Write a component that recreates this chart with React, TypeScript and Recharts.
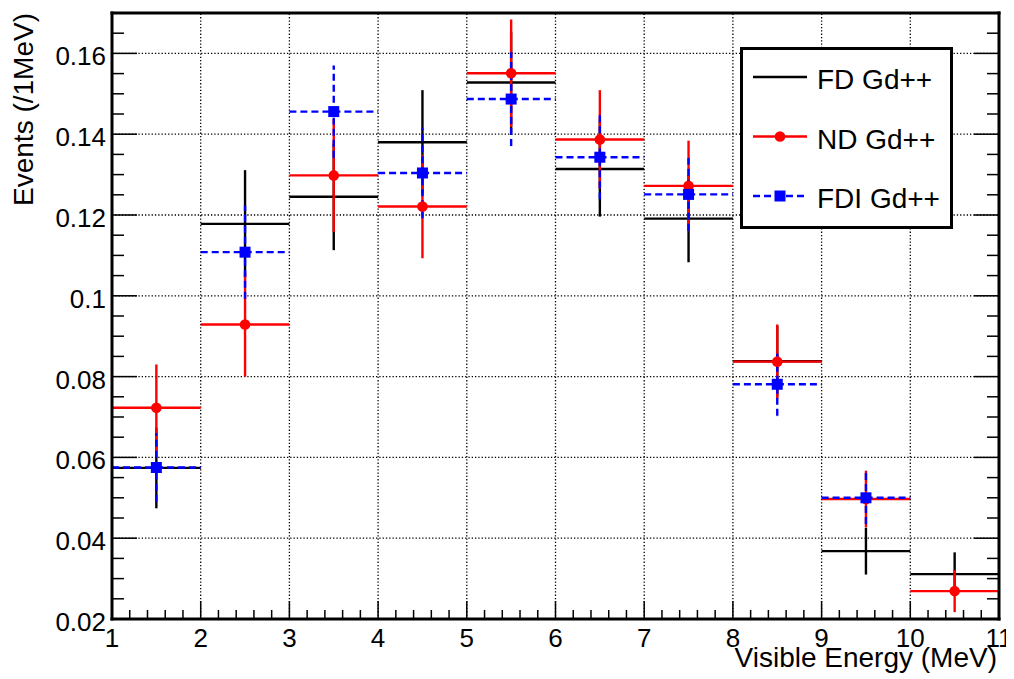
import React from 'react';
import { ComposedChart, Scatter, ErrorBar, XAxis, YAxis, ReferenceLine, Legend } from 'recharts';

// ---- data ----
const BIN_CENTERS = [1.5, 2.5, 3.5, 4.5, 5.5, 6.5, 7.5, 8.5, 9.5, 10.5];
const BIN_HALF_WIDTH = [0.5, 0.5, 0.5, 0.5, 0.5, 0.5, 0.5, 0.5, 0.5, 0.5];

const FD_VALUES = [0.0574, 0.1178, 0.1245, 0.138, 0.1528, 0.1314, 0.1191, 0.0838, 0.0368, 0.0311];
const FD_ERRORS = [0.01, 0.0133, 0.0132, 0.0129, 0.0125, 0.0118, 0.0108, 0.0088, 0.0058, 0.0054];

const ND_VALUES = [0.0723, 0.0929, 0.1298, 0.1221, 0.1551, 0.1387, 0.1272, 0.0837, 0.0497, 0.0269];
const ND_ERRORS = [0.0107, 0.0129, 0.014, 0.0128, 0.0133, 0.0122, 0.0112, 0.0092, 0.007, 0.0052];

const FDI_VALUES: (number | null)[] = [0.0575, 0.1108, 0.1456, 0.1304, 0.1487, 0.1343, 0.1251, 0.0781, 0.05, null];
const FDI_ERRORS: (number | null)[] = [0.0085, 0.0115, 0.0114, 0.0112, 0.0116, 0.0104, 0.009, 0.0078, 0.0065, null];

const SERIES_NAMES = ['FD Gd++', 'ND Gd++', 'FDI Gd++'];

const X_MAJOR_TICKS = [1, 2, 3, 4, 5, 6, 7, 8, 9, 10, 11];
const Y_MAJOR_TICKS = [0.02, 0.04, 0.06, 0.08, 0.1, 0.12, 0.14, 0.16];
const X_GRID = [2, 3, 4, 5, 6, 7, 8, 9, 10];
const Y_GRID = [0.04, 0.06, 0.08, 0.1, 0.12, 0.14, 0.16];
const X_DOMAIN: [number, number] = [1, 11];
const Y_DOMAIN: [number, number] = [0.02, 0.17];
const X_MINOR_STEP = 0.2;
const Y_MINOR_STEP = 0.005;

const X_ALL_TICKS: number[] = [];
for (let i = 0; i <= Math.round((X_DOMAIN[1] - X_DOMAIN[0]) / X_MINOR_STEP); i++) {
  X_ALL_TICKS.push(Math.round((X_DOMAIN[0] + i * X_MINOR_STEP) * 10) / 10);
}
const Y_ALL_TICKS: number[] = [];
for (let i = 0; i <= Math.round((Y_DOMAIN[1] - Y_DOMAIN[0]) / Y_MINOR_STEP); i++) {
  Y_ALL_TICKS.push(Math.round((Y_DOMAIN[0] + i * Y_MINOR_STEP) * 1000) / 1000);
}

const build = (vals: (number | null)[], errs: (number | null)[]) =>
  BIN_CENTERS.map((x, i) => ({ x, y: vals[i], ex: BIN_HALF_WIDTH[i], ey: errs[i] })).filter((d) => d.y != null);

const FD_DATA = build(FD_VALUES, FD_ERRORS);
const ND_DATA = build(ND_VALUES, ND_ERRORS);
const FDI_DATA = build(FDI_VALUES, FDI_ERRORS);

// ---- style ----
const FONT = '"Liberation Sans", Arial, Helvetica, sans-serif';
const BLACK = '#000000';
const RED = '#ff0000';
const BLUE = '#0000ff';
const DASH = '7 4';
const LINE_W = 2.4;
const LABEL_SIZE = 26;
const TITLE_SIZE = 28;

const isMajorX = (v: number) => X_MAJOR_TICKS.some((t) => Math.abs(t - v) < 1e-6);
const isMajorY = (v: number) => Y_MAJOR_TICKS.some((t) => Math.abs(t - v) < 1e-7);

const BottomTick = (props: any) => {
  const { x, y, payload } = props;
  const v = payload.value;
  const major = isMajorX(v);
  return (
    <g>
      <line x1={x} x2={x} y1={y} y2={y - (major ? 18 : 9)} stroke={BLACK} strokeWidth={1.5} />
      {major && (
        <text x={x} y={y + 28} textAnchor="middle" fontSize={LABEL_SIZE} fontFamily={FONT} fill={BLACK}>
          {String(v)}
        </text>
      )}
    </g>
  );
};

const TopTick = (props: any) => {
  const { x, y, payload } = props;
  const major = isMajorX(payload.value);
  return <line x1={x} x2={x} y1={y} y2={y + (major ? 18 : 9)} stroke={BLACK} strokeWidth={1.5} />;
};

const LeftTick = (props: any) => {
  const { x, y, payload } = props;
  const v = payload.value;
  const major = isMajorY(v);
  return (
    <g>
      <line x1={x} x2={x + (major ? 25 : 12)} y1={y} y2={y} stroke={BLACK} strokeWidth={1.5} />
      {major && (
        <text x={x - 6} y={y + 12} textAnchor="end" fontSize={LABEL_SIZE} fontFamily={FONT} fill={BLACK}>
          {String(v)}
        </text>
      )}
    </g>
  );
};

const RightTick = (props: any) => {
  const { x, y, payload } = props;
  const major = isMajorY(payload.value);
  return <line x1={x} x2={x - (major ? 25 : 12)} y1={y} y2={y} stroke={BLACK} strokeWidth={1.5} />;
};

const NoShape = () => <g />;
const CircleShape = (props: any) => <circle cx={props.cx} cy={props.cy} r={5.3} fill={RED} />;
const SquareShape = (props: any) => (
  <rect x={props.cx - 5.5} y={props.cy - 5.5} width={11} height={11} fill={BLUE} />
);

const LEGEND_ROWS = [27, 86.5, 146];
const LEGEND_STYLES = [
  { color: BLACK, dash: undefined as string | undefined, marker: 'none' },
  { color: RED, dash: undefined as string | undefined, marker: 'circle' },
  { color: BLUE, dash: DASH, marker: 'square' },
];

const LegendBox = () => (
  <div
    style={{
      width: 213,
      height: 182,
      boxSizing: 'border-box',
      border: '3px solid #000',
      background: '#fff',
    }}
  >
    <svg width={207} height={176} style={{ display: 'block' }}>
      {SERIES_NAMES.map((name, i) => {
        const cy = LEGEND_ROWS[i];
        const st = LEGEND_STYLES[i];
        return (
          <g key={name}>
            <line x1={10} x2={64} y1={cy} y2={cy} stroke={st.color} strokeWidth={LINE_W} strokeDasharray={st.dash} />
            {st.marker === 'circle' && <circle cx={37} cy={cy} r={5.3} fill={st.color} />}
            {st.marker === 'square' && <rect x={31.5} y={cy - 5.5} width={11} height={11} fill={st.color} />}
            <text x={74} y={cy + 12} fontSize={TITLE_SIZE} fontFamily={FONT} fill={BLACK}>
              {name}
            </text>
          </g>
        );
      })}
    </svg>
  </div>
);

const frameLine = { stroke: BLACK, strokeWidth: 3, strokeLinecap: 'square' as const };

export default function App() {
  return (
    <div style={{ width: 1006, height: 671, fontFamily: FONT }}>
      <ComposedChart width={1006} height={671} margin={{ top: 0, right: 5, bottom: 10, left: 44 }}>
        <XAxis
          xAxisId="b"
          type="number"
          dataKey="x"
          orientation="bottom"
          domain={X_DOMAIN}
          ticks={X_ALL_TICKS}
          interval={0}
          allowDataOverflow
          height={50}
          tickSize={0}
          tickMargin={0}
          tickLine={false}
          axisLine={frameLine}
          tick={<BottomTick />}
          label={{
            content: (p: any) => {
              const vb = p.viewBox || {};
              return (
                <text
                  x={vb.x + vb.width - 2}
                  y={vb.y + 48}
                  textAnchor="end"
                  fontSize={TITLE_SIZE}
                  fontFamily={FONT}
                  fill={BLACK}
                >
                  Visible Energy (MeV)
                </text>
              );
            },
          }}
        />
        <XAxis
          xAxisId="t"
          type="number"
          orientation="top"
          domain={X_DOMAIN}
          ticks={X_ALL_TICKS}
          interval={0}
          allowDataOverflow
          height={5}
          tickSize={0}
          tickMargin={0}
          tickLine={false}
          axisLine={frameLine}
          tick={<TopTick />}
        />
        <YAxis
          yAxisId="l"
          type="number"
          orientation="left"
          domain={Y_DOMAIN}
          ticks={Y_ALL_TICKS}
          interval={0}
          allowDataOverflow
          width={60}
          tickSize={0}
          tickMargin={0}
          tickLine={false}
          axisLine={frameLine}
          tick={<LeftTick />}
          label={{
            content: (p: any) => {
              const vb = p.viewBox || {};
              const x = vb.x - 19;
              const y = vb.y;
              return (
                <text
                  x={x}
                  y={y}
                  transform={`rotate(-90, ${x}, ${y})`}
                  textAnchor="end"
                  fontSize={TITLE_SIZE}
                  fontFamily={FONT}
                  fill={BLACK}
                >
                  Events (/1MeV)
                </text>
              );
            },
          }}
        />
        <YAxis
          yAxisId="r"
          type="number"
          orientation="right"
          domain={Y_DOMAIN}
          ticks={Y_ALL_TICKS}
          interval={0}
          allowDataOverflow
          width={10}
          tickSize={0}
          tickMargin={0}
          tickLine={false}
          axisLine={frameLine}
          tick={<RightTick />}
        />
        {X_GRID.map((v) => (
          <ReferenceLine
            key={`gx${v}`}
            x={v}
            xAxisId="b"
            yAxisId="l"
            stroke={BLACK}
            strokeWidth={1.3}
            strokeDasharray="1.3 2"
          />
        ))}
        {Y_GRID.map((v) => (
          <ReferenceLine
            key={`gy${v}`}
            y={v}
            xAxisId="b"
            yAxisId="l"
            stroke={BLACK}
            strokeWidth={1.3}
            strokeDasharray="1.3 2"
          />
        ))}
        <Legend
          layout="horizontal"
          verticalAlign="middle"
          align="center"
          content={() => <LegendBox />}
          wrapperStyle={{ position: 'absolute', left: 732, top: 39, width: 213, height: 182 }}
        />
        <Scatter
          name={SERIES_NAMES[0]}
          data={FD_DATA}
          dataKey="y"
          xAxisId="b"
          yAxisId="l"
          shape={<NoShape />}
          fill={BLACK}
          isAnimationActive={false}
        >
          <ErrorBar dataKey="ex" direction="x" width={0} stroke={BLACK} strokeWidth={LINE_W} />
          <ErrorBar dataKey="ey" direction="y" width={0} stroke={BLACK} strokeWidth={LINE_W} />
        </Scatter>
        <Scatter
          name={SERIES_NAMES[1]}
          data={ND_DATA}
          dataKey="y"
          xAxisId="b"
          yAxisId="l"
          shape={<CircleShape />}
          fill={RED}
          isAnimationActive={false}
        >
          <ErrorBar dataKey="ex" direction="x" width={0} stroke={RED} strokeWidth={LINE_W} />
          <ErrorBar dataKey="ey" direction="y" width={0} stroke={RED} strokeWidth={LINE_W} />
        </Scatter>
        <Scatter
          name={SERIES_NAMES[2]}
          data={FDI_DATA}
          dataKey="y"
          xAxisId="b"
          yAxisId="l"
          shape={<SquareShape />}
          fill={BLUE}
          isAnimationActive={false}
        >
          <ErrorBar dataKey="ex" direction="x" width={0} stroke={BLUE} strokeWidth={LINE_W} strokeDasharray={DASH} />
          <ErrorBar dataKey="ey" direction="y" width={0} stroke={BLUE} strokeWidth={LINE_W} strokeDasharray={DASH} />
        </Scatter>
      </ComposedChart>
    </div>
  );
}
